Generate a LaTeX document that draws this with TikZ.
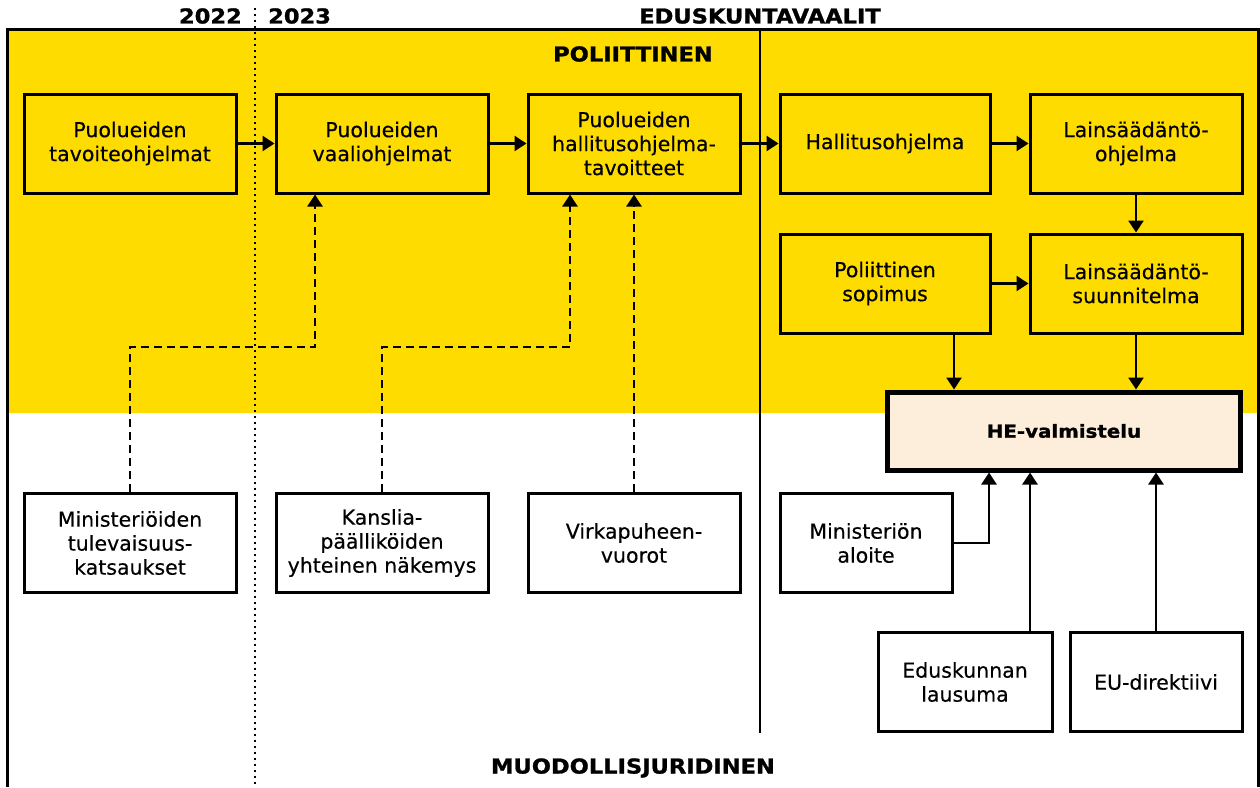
\documentclass[tikz,border=0pt]{standalone}
\usepackage{fontspec}
\setmainfont[UprightFeatures={FakeBold=0.4}]{DejaVu Sans}
\newfontfamily\headfont[FakeStretch=1.1,BoldFeatures={FakeBold=1.2}]{DejaVu Sans}
\usetikzlibrary{arrows.meta}
\usetikzlibrary{positioning}
\definecolor{polyellow}{HTML}{FFDC00}
\definecolor{hepeach}{HTML}{FDEEDC}

\begin{document}
\begin{tikzpicture}[x=1pt,y=-1pt,
  box/.style={draw,line width=3pt,minimum width=212pt,minimum height=99pt,inner sep=0pt,align=center,font=\fontsize{20.5}{24}\selectfont},
  hebox/.style={draw,line width=5pt,fill=hepeach,minimum width=353pt,minimum height=78pt,inner sep=0pt,font=\headfont\bfseries\fontsize{18}{20}\selectfont},
  head/.style={font=\headfont\bfseries\fontsize{20.5}{22}\selectfont,inner sep=0pt},
  arr/.style={line width=2.6pt,-{Triangle[length=12pt,width=15pt]}},
  darr/.style={arr,dash pattern=on 8pt off 5pt}]
 \useasboundingbox (0,0) rectangle (1260,787);
 % background and frame
 \fill[polyellow] (7,29) rectangle (1258,413);
 \draw[line width=3pt] (7,787) -- (7,29) -- (1258,29) -- (1258,787);
 \draw[line width=2.6pt,dash pattern=on 2.4pt off 3.6pt] (255,8) -- (255,787);
 \draw[line width=2.4pt] (760,29) -- (760,733);
 % headings
 \node[head,anchor=east] (y22) at (242,16) {2022};
 \node[head,anchor=west] (y23) at (268,16) {2023};
 \node[head] (vaalit) at (760,16) {EDUSKUNTAVAALIT};
 \node[head] (pol) at (633,54) {POLIITTINEN};
 \node[head] (muod) at (633,768) {MUODOLLISJURIDINEN};
 % political row
 \node[box] (tavoite) at (130,143.5) {Puolueiden\\tavoiteohjelmat};
 \node[box] (vaali) at (382,143.5) {Puolueiden\\vaaliohjelmat};
 \node[box] (hotav) at (634,143.5) {Puolueiden\\hallitusohjelma-\\tavoitteet};
 \node[box,minimum width=210pt] (hallitus) at (885,143.5) {Hallitusohjelma};
 \node[box] (lsohj) at (1136,143.5) {Lainsäädäntö-\\ohjelma};
 \node[box,minimum width=210pt] (sopimus) at (885,283.5) {Poliittinen\\sopimus};
 \node[box] (lssuun) at (1136,283.5) {Lainsäädäntö-\\suunnitelma};
 \node[hebox] (he) at (1064,431) {HE-valmistelu};
 % formal row
 \node[box] (katsaus) at (130,543) {Ministeriöiden\\tulevaisuus-\\katsaukset};
 \node[box] (kanslia) at (382,543) {Kanslia-\\päälliköiden\\yhteinen näkemys};
 \node[box] (virka) at (634,543) {Virkapuheen-\\vuorot};
 \node[box,minimum width=172pt] (aloite) at (866,543) {Ministeriön\\aloite};
 \node[box,minimum width=174pt] (lausuma) at (965,682) {Eduskunnan\\lausuma};
 \node[box,minimum width=172pt] (eudir) at (1156,682) {EU-direktiivi};
 % arrows
 \draw[arr] (tavoite) -- (vaali);
 \draw[arr] (vaali) -- (hotav);
 \draw[arr] (hotav) -- (hallitus);
 \draw[arr] (hallitus) -- (lsohj);
 \draw[arr] (sopimus) -- (lssuun);
 \draw[arr] (lsohj) -- (lssuun);
 \draw[arr] ([xshift=69pt]sopimus.south) -- ([xshift=69pt]sopimus.south |- he.north);
 \draw[arr] (lssuun.south) -- (lssuun.south |- he.north);
 \coordinate (k1) at (315,347);
 \coordinate (k2) at (570,347);
 \draw[darr] (katsaus.north) |- (k1) -- (k1 |- vaali.south);
 \draw[darr] (kanslia.north) |- (k2) -- (k2 |- hotav.south);
 \draw[darr] (virka.north) -- (hotav.south);
 \draw[arr] (aloite.east) -| ([xshift=-75pt]he.south);
 \draw[arr] ([xshift=65pt]lausuma.north) -- ([xshift=65pt]lausuma.north |- he.south);
 \draw[arr] (eudir.north) -- (eudir.north |- he.south);
\end{tikzpicture}
\end{document}
